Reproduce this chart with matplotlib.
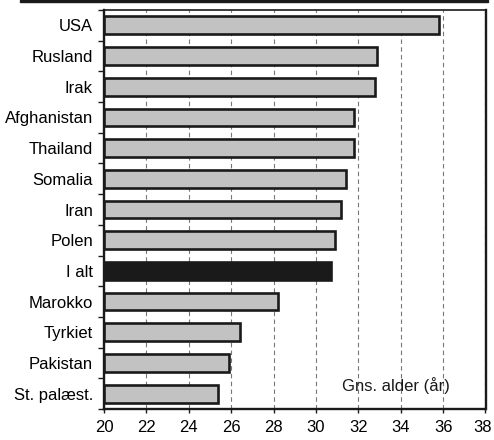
import matplotlib
matplotlib.use("Agg")
import matplotlib.pyplot as plt
import matplotlib.transforms as mtransforms
from matplotlib.patches import Rectangle
from matplotlib.ticker import FixedLocator

categories = ["USA", "Rusland", "Irak", "Afghanistan", "Thailand", "Somalia",
              "Iran", "Polen", "I alt", "Marokko", "Tyrkiet", "Pakistan", "St. palæst."]
values = [35.8, 32.9, 32.8, 31.8, 31.8, 31.4, 31.2, 30.9, 30.7, 28.2, 26.4, 25.9, 25.4]
xticks = [20, 22, 24, 26, 28, 30, 32, 34, 36, 38]
annotation = "Gns. alder (år)"

plt.rcParams['font.family'] = ['Liberation Sans', 'DejaVu Sans']

fig = plt.figure(figsize=(4.94, 4.40), dpi=100)
ax = fig.add_axes([104/494, 1 - 409/440, (485.5 - 104)/494, (409 - 10)/440])

n = len(categories)
ypos = list(range(n))
colors = ['#1a1a1a' if c == "I alt" else '#c2c2c2' for c in categories]
base = xticks[0]
ax.barh(ypos, [v - base for v in values], left=base, height=0.58,
        color=colors, edgecolor='#1a1a1a', linewidth=1.9, zorder=3)

ax.set_xlim(xticks[0], xticks[-1])
ax.set_ylim(n - 0.5, -0.5)
ax.set_xticks(xticks)
ax.set_xticklabels([str(t) for t in xticks], fontsize=12)
ax.set_yticks(ypos)
ax.set_yticklabels(categories, fontsize=12)
ax.yaxis.set_minor_locator(FixedLocator([i + 0.5 for i in range(-1, n)]))
ax.tick_params(axis='y', which='major', length=0, pad=8)
ax.tick_params(axis='y', which='minor', length=4, width=1, direction='out', color='#1a1a1a')
ax.tick_params(axis='x', which='major', length=3, width=1, direction='out', pad=5, color='#1a1a1a')

# nudge the last x tick label so it stays inside the figure
last = ax.get_xticklabels()[-1]
last.set_transform(last.get_transform() + mtransforms.ScaledTranslation(-3/100, 0, fig.dpi_scale_trans))

ax.grid(axis='x', linestyle=(0, (4, 3)), color='#777777', linewidth=0.8, zorder=0)
ax.set_axisbelow(True)

for s in ax.spines.values():
    s.set_linewidth(1.7)
    s.set_color('#1a1a1a')
ax.spines['top'].set_linewidth(1.2)

ax.text(0.765, 0.06, annotation, transform=ax.transAxes, fontsize=12,
        ha='center', va='center', color='#1a1a1a', zorder=5)

fig.patches.append(Rectangle((20/494, 438/440), (488 - 20)/494, 2/440,
                             transform=fig.transFigure, color='#1a1a1a', zorder=10))

fig.savefig("out.png", dpi=100)
